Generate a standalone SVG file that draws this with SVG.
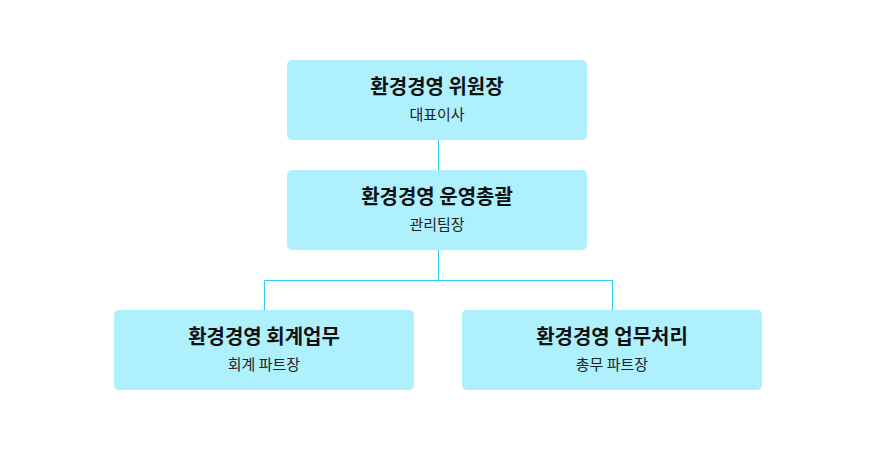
<svg xmlns="http://www.w3.org/2000/svg" width="876" height="450" viewBox="0 0 876 450">
<style>
.box{fill:#aef0fc;}
.t{font-family:"Noto Sans CJK KR","Noto Sans",sans-serif;font-size:20px;font-weight:bold;fill:#111;text-anchor:middle;}
.s{font-family:"Noto Sans CJK KR","Noto Sans",sans-serif;font-size:15px;fill:#222;text-anchor:middle;}
.c{fill:none;stroke:#22d3f0;stroke-width:1;}
</style>
<rect width="876" height="450" fill="#fff"/>
<g id="connectors">
<path class="c" d="M438.5 140V170M438.5 250V280.5M264.5 310V280.5H612.5V310"/>
</g>
<g id="n1">
<rect class="box" x="287" y="60" width="300" height="80" rx="5"/>
<text class="t" x="437" y="94">환경경영 위원장</text>
<text class="s" x="437" y="120">대표이사</text>
</g>
<g id="n2">
<rect class="box" x="287" y="170" width="300" height="80" rx="5"/>
<text class="t" x="437" y="204">환경경영 운영총괄</text>
<text class="s" x="437" y="230">관리팀장</text>
</g>
<g id="n3">
<rect class="box" x="114" y="310" width="300" height="80" rx="5"/>
<text class="t" x="264" y="344">환경경영 회계업무</text>
<text class="s" x="264" y="370">회계 파트장</text>
</g>
<g id="n4">
<rect class="box" x="462" y="310" width="300" height="80" rx="5"/>
<text class="t" x="612" y="344">환경경영 업무처리</text>
<text class="s" x="612" y="370">총무 파트장</text>
</g>
</svg>
